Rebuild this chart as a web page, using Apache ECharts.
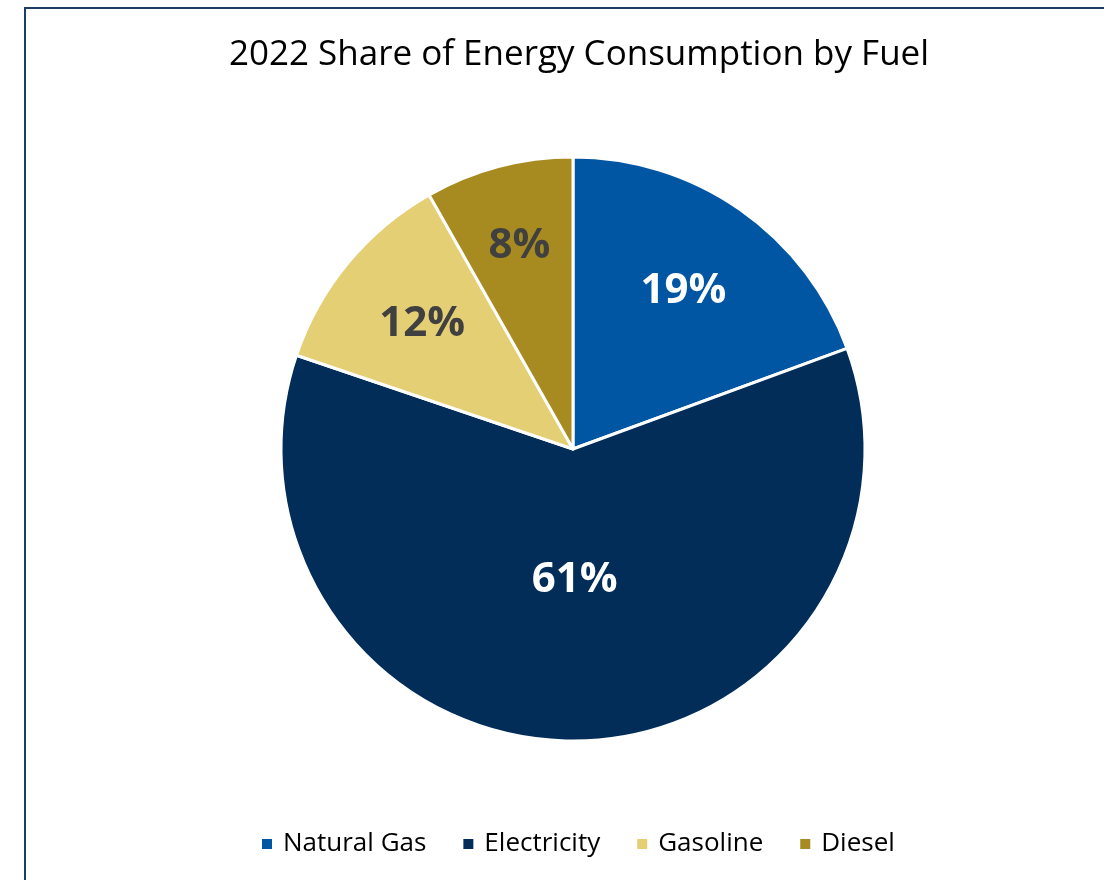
<!DOCTYPE html>
<html>
<head>
<meta charset="utf-8">
<script src="https://cdn.jsdelivr.net/npm/echarts@6/dist/echarts.min.js"></script>
<style>html,body{margin:0;padding:0;background:#fff;}#main{width:1104px;height:880px;}</style>
</head>
<body>
<div id="main"></div>
<script>
const categories = ['Natural Gas', 'Electricity', 'Gasoline', 'Diesel'];
const shares = [19.4, 60.8, 11.6, 8.2];
const colors = ['#0156A3', '#012D58', '#E5CF75', '#A78B21'];
const labelColors = ['#ffffff', '#ffffff', '#404040', '#404040'];
const labelRadiusRatio = [0.66, 0.45, 0.67, 0.72];

const CX = 573, CY = 449, R = 292;
const total = shares.reduce((a, b) => a + b, 0);
const midAngles = [];
let acc = 0;
shares.forEach(v => { midAngles.push((acc + v / 2) / total * 2 * Math.PI); acc += v; });

const chart = echarts.init(document.getElementById('main'));
chart.setOption({
  animation: false,
  backgroundColor: '#ffffff',
  title: {
    text: '2022 Share of Energy Consumption by Fuel',
    left: 574, top: 33, textAlign: 'center',
    textStyle: { fontFamily: 'Open Sans', fontSize: 35, fontWeight: 'normal', color: '#000000' }
  },
  legend: {
    bottom: 18, left: 255, itemGap: 35, itemWidth: 12, itemHeight: 12, icon: 'rect',
    textStyle: { fontFamily: 'Open Sans', fontSize: 26, color: '#000000', padding: [0, 0, 0, 5] },
    data: categories
  },
  graphic: [{
    type: 'rect', shape: { x: 25, y: 8, width: 1120, height: 920 },
    style: { fill: 'none', stroke: '#1F3C63', lineWidth: 2 }, silent: true
  }],
  series: [{
    type: 'pie', center: [CX, CY], radius: R, startAngle: 90, clockwise: true,
    itemStyle: { borderColor: '#ffffff', borderWidth: 3 },
    label: {
      position: 'inside', fontFamily: 'Open Sans', fontSize: 42, fontWeight: 'bold',
      formatter: p => Math.round(p.value) + '%'
    },
    labelLayout: p => {
      const i = p.dataIndex, d = labelRadiusRatio[i] * R, a = midAngles[i];
      return { x: CX + d * Math.sin(a), y: CY - d * Math.cos(a), align: 'center', verticalAlign: 'middle' };
    },
    data: categories.map((c, i) => ({
      name: c, value: shares[i],
      itemStyle: { color: colors[i] },
      label: { color: labelColors[i] }
    }))
  }]
});
</script>
</body>
</html>
